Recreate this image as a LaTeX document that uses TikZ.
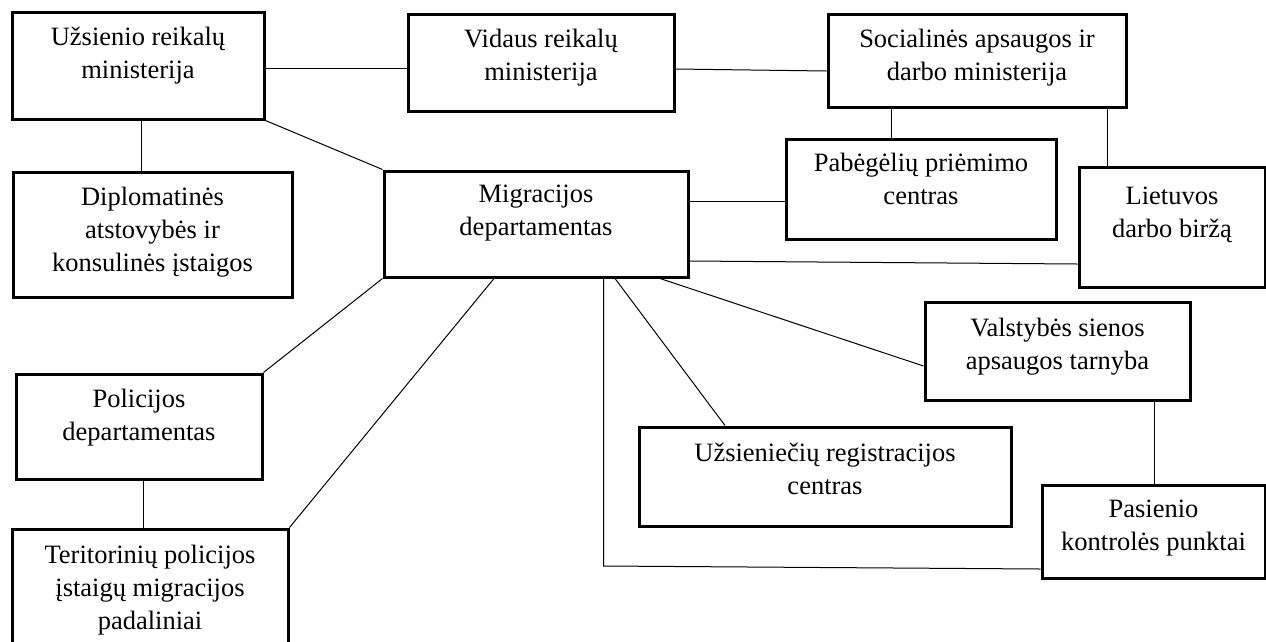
\documentclass[tikz,border=0pt]{standalone}
\usepackage{fontspec}
\setmainfont{Liberation Serif}
\begin{document}
\begin{tikzpicture}[x=1pt,y=-1pt,
  box/.style={draw=black, line width=3pt, inner sep=0pt},
  txt/.style={font=\fontsize{26.5}{33}\selectfont, align=center, inner sep=0pt, anchor=north,
              execute at begin node={\rule{0pt}{20pt}}},
  conn/.style={draw=black, line width=1pt}]
\useasboundingbox (0,0) rectangle (1266,641);
\fill[white] (0,0) rectangle (1266,641);

% boxes
\node[box, minimum width=252pt, minimum height=107pt] (A) at (138,65.5) {};
\node[box, minimum width=266pt, minimum height=97pt]  (B) at (541,62.5) {};
\node[box, minimum width=298pt, minimum height=93pt]  (C) at (977,60.5) {};
\node[box, minimum width=279pt, minimum height=125pt] (D) at (152.5,234.5) {};
\node[box, minimum width=304pt, minimum height=106pt] (E) at (536,224) {};
\node[box, minimum width=270pt, minimum height=100pt] (F) at (921,189) {};
\node[box, minimum width=186pt, minimum height=120pt] (G) at (1172,227) {};
\node[box, minimum width=265pt, minimum height=98pt]  (H) at (1057.5,351) {};
\node[box, minimum width=246pt, minimum height=105pt] (I) at (139,426.5) {};
\node[box, minimum width=372pt, minimum height=99pt]  (J) at (825,476.5) {};
\node[box, minimum width=223pt, minimum height=93pt]  (K) at (1153.5,531.5) {};
\node[box, minimum width=276pt, minimum height=151pt] (L) at (150,604.5) {};

% texts
\node[txt] (At) at (138,27)   {Užsienio reikalų\\ministerija};
\node[txt] (Bt) at (541,29)   {Vidaus reikalų\\ministerija};
\node[txt] (Ct) at (977,29)   {Socialinės apsaugos ir\\darbo ministerija};
\node[txt] (Dt) at (152.5,187) {Diplomatinės\\atstovybės ir\\konsulinės įstaigos};
\node[txt] (Et) at (536,185)  {Migracijos\\departamentas};
\node[txt] (Ft) at (921,153)  {Pabėgėlių priėmimo\\centras};
\node[txt] (Gt) at (1172,187) {Lietuvos\\darbo biržą};
\node[txt] (Ht) at (1057.5,318) {Valstybės sienos\\apsaugos tarnyba};
\node[txt] (It) at (139,389)  {Policijos\\departamentas};
\node[txt] (Jt) at (825,443)  {Užsieniečių registracijos\\centras};
\node[txt] (Kt) at (1153.5,500) {Pasienio\\kontrolės punktai};
\node[txt] (Lt) at (150,545)  {Teritorinių policijos\\įstaigų migracijos\\padaliniai};

% connectors
\draw[conn] (A.east |- 0,68) -- (B.west |- 0,68);
\draw[conn] (B.east |- 0,69) -- (C.west |- 0,71);
\draw[conn] (141,0 |- A.south) -- (141,0 |- D.north);
\draw[conn] (A.south east) -- (E.north west);
\draw[conn] (891,0 |- C.south) -- (891,0 |- F.north);
\draw[conn] (1107,0 |- C.south) -- (1107,0 |- G.north);
\draw[conn] (E.east |- 0,201) -- (F.west |- 0,201);
\draw[conn] (E.east |- 0,261) -- (G.west |- 0,264);
\draw[conn] (615,0 |- E.south) -- (725,0 |- J.north);
\draw[conn] (660,0 |- E.south) -- (H.west |- 0,366);
\draw[conn] (E.south west) -- (I.north east);
\draw[conn] (494,0 |- E.south) -- (L.north east);
\coordinate (bend) at (603.5,566);
\draw[conn] (603.5,0 |- E.south) -- (bend) -- (K.west |- 0,569);
\draw[conn] (1154,0 |- H.south) -- (1154,0 |- K.north);
\draw[conn] (143,0 |- I.south) -- (143,0 |- L.north);
\end{tikzpicture}
\end{document}
